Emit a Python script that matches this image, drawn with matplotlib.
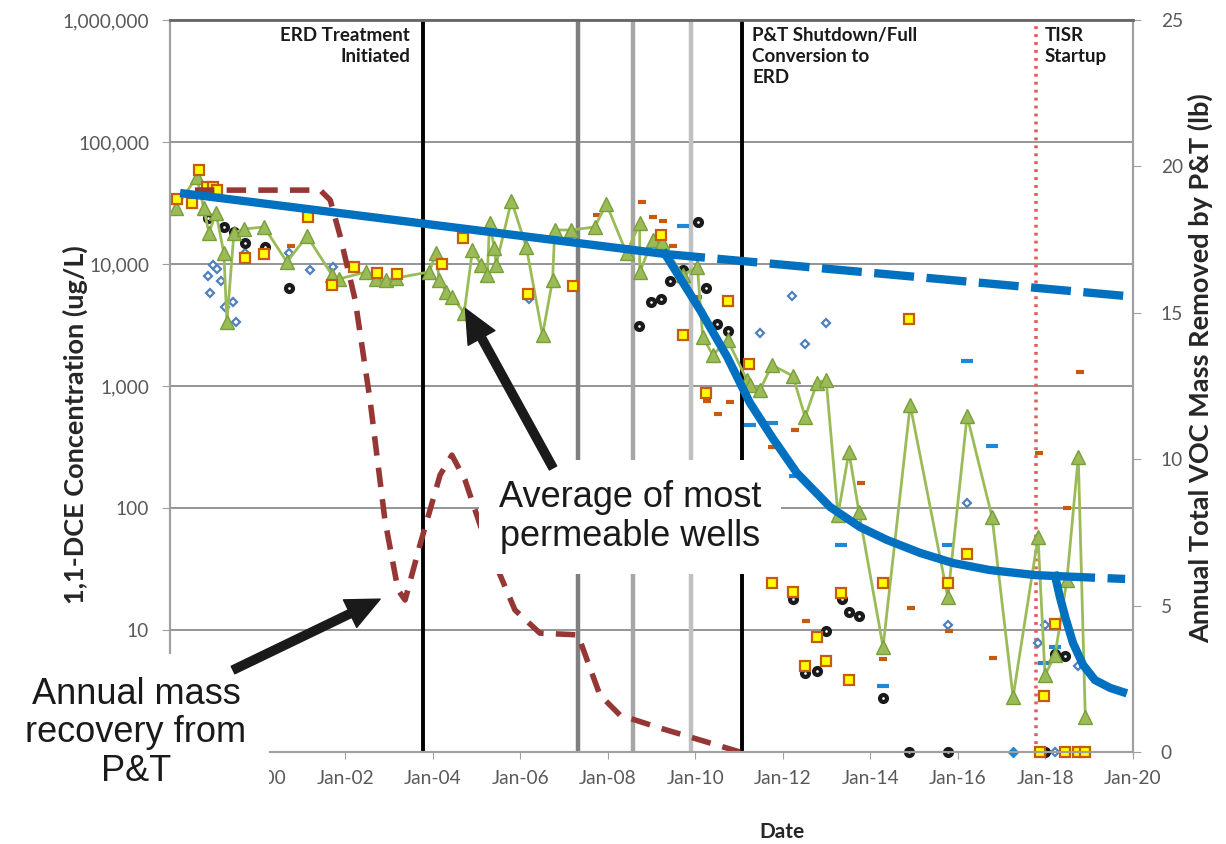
import numpy as np
import matplotlib.pyplot as plt
from matplotlib.ticker import FixedLocator, FuncFormatter, NullLocator

plt.rcParams['font.family'] = ['Lato', 'DejaVu Sans']

# x values are decimal years, y values in ug/L (left, log) or lb (right)

# green triangles - average of most permeable wells
avg_yr = [1998.13, 1998.61, 1998.77, 1998.89, 1999.05, 1999.23, 1999.30, 1999.46, 1999.69, 2000.15,
          2000.67, 2001.13, 2001.70, 2001.86, 2002.48, 2002.71, 2002.94, 2003.17, 2003.92, 2004.08,
          2004.15, 2004.31, 2004.45, 2004.72, 2004.91, 2005.11, 2005.25, 2005.30, 2005.41, 2005.45,
          2005.80, 2006.14, 2006.51, 2006.74, 2006.79, 2007.17, 2007.70, 2007.97, 2008.43, 2008.73,
          2008.73, 2009.03, 2009.23, 2009.71, 2010.05, 2010.17, 2010.40, 2010.74, 2011.18, 2011.25,
          2011.48, 2011.75, 2012.23, 2012.51, 2012.78, 2012.99, 2013.26, 2013.51, 2013.74, 2014.29,
          2014.91, 2015.77, 2016.21, 2016.78, 2017.26, 2017.83, 2017.99, 2018.22, 2018.49, 2018.75,
          2018.91]
avg_val = [28800, 51600, 28800, 17960, 26200, 12300, 3350, 17960, 19360, 20100,
           10380, 16980, 8130, 7540, 8600, 7540, 7390, 7680, 8600, 12300,
           7390, 5890, 5370, 3965, 13030, 9820, 8130, 21680, 13520, 9820,
           33000, 13780, 2620, 7390, 19000, 19000, 20100, 31000, 12300, 21680,
           8600, 15730, 15140, 8130, 9440, 2520, 1795, 2380, 1120, 1020,
           927, 1486, 1208, 557, 1059, 1120, 87.6, 288, 92.7, 7.26,
           699, 18.6, 568, 84.4, 2.82, 57.9, 4.28, 6.24, 25.7, 262,
           1.94]

# yellow squares
sq_yr = [1998.16, 1998.66, 1998.50, 1998.85, 1998.98, 1999.07, 1999.71, 2000.15, 2001.15, 2001.70,
         2002.20, 2002.73, 2003.19, 2004.21, 2004.69, 2006.18, 2007.21, 2009.22, 2009.72, 2010.75,
         2010.25, 2011.23, 2014.88, 2011.75, 2012.23, 2012.78, 2012.51, 2012.99, 2013.33, 2013.51,
         2014.29, 2015.77, 2016.21, 2018.22, 2017.97, 2017.88, 2018.45, 2018.75, 2018.91]
sq_val = [34100, 58900, 31600, 42800, 42800, 40400, 11200, 12080, 24300, 6730,
          9440, 8440, 8280, 10000, 16330, 5680, 6600, 17300, 2620, 4970,
          877, 1515, 3540, 24.3, 20.5, 8.77, 5.07, 5.57, 20.1, 3.89,
          24.3, 24.3, 42.0, 11.2, 2.88, 1, 1, 1, 1]

# black dots
blk_yr = [1998.87, 1999.23, 1999.46, 1999.71, 2000.17, 2000.72, 2010.06, 2009.72, 2009.42, 2008.99,
          2009.22, 2008.72, 2010.25, 2010.50, 2010.75, 2012.23, 2013.35, 2013.51, 2013.74, 2012.99,
          2012.51, 2012.78, 2014.29, 2018.22, 2018.45, 2014.88, 2015.77, 2017.99]
blk_val = [23800, 20100, 18300, 14860, 13780, 6360, 22100, 8930, 7260, 4880,
           5170, 3100, 6360, 3220, 2820, 17.9, 17.9, 14.0, 13.0, 9.79,
           4.44, 4.61, 2.77, 6.36, 6.13, 1, 1, 1]

# blue open diamonds
dia_yr = [1998.98, 1999.07, 1998.87, 1999.17, 1998.91, 1999.26, 1999.44, 1999.51, 1999.71, 2000.72,
          2001.20, 2001.72, 2006.20, 2011.48, 2012.21, 2012.51, 2012.99, 2016.21, 2015.77, 2017.83,
          2017.99, 2018.75, 2018.22]
dia_val = [9820, 9100, 7980, 7260, 5780, 4440, 4880, 3350, 12300, 12300,
           8930, 9440, 5170, 2720, 5470, 2210, 3280, 110, 11.0, 7.82,
           11.0, 5.07, 1]

# blue dashes
bd_yr = [2009.72, 2011.25, 2011.75, 2012.28, 2016.21, 2016.78, 2013.33, 2015.77, 2014.29, 2017.97, 2018.22]
bd_val = [20500, 479, 497, 183, 1600, 322, 49.8, 49.8, 3.48, 5.37, 7.26]
bfill_yr = [2017.26]
bfill_val = [1]

# orange dashes
od_yr = [2008.78, 2009.03, 2009.26, 2007.76, 2009.49, 2010.06, 2010.27, 2010.79, 2010.52, 2012.28,
         2011.75, 2013.79, 2012.53, 2014.93, 2014.29, 2015.80, 2016.80, 2017.85, 2018.49, 2018.79,
         2000.76]
od_val = [32200, 24300, 22500, 25200, 14060, 5370, 753, 736, 589, 436,
          316, 160, 11.8, 15.1, 5.78, 9.79, 5.89, 282, 100, 1300,
          14060]

# annual mass recovery from P&T (lb, right axis)
pt_yr = [1998.57, 2001.43, 2001.66, 2001.88, 2002.23, 2002.57, 2002.91, 2003.21, 2003.37, 2003.71,
         2004.17, 2004.44, 2004.74, 2005.20, 2005.54, 2005.88, 2006.45, 2007.32, 2007.82, 2008.28,
         2009.19, 2010.11, 2011.02]
pt_lb = [19.19, 19.19, 18.85, 17.66, 15.44, 12.02, 7.92, 5.53, 5.19, 7.07,
         9.46, 10.14, 9.29, 7.24, 6.05, 4.85, 4.06, 4.00, 1.95, 1.26,
         0.82, 0.41, 0.0]

# trend lines (ug/L)
tr1_yr = [1998.23, 2009.31]
tr1_val = [38200, 12080]
tr1d_yr = [2009.31, 2019.82]
tr1d_val = [12080, 5470]
tr2_yr = [2009.31, 2010.11, 2010.73, 2011.25, 2011.75, 2012.32, 2013.08, 2013.76, 2014.38, 2015.14,
          2015.89, 2016.73, 2017.76, 2018.22]
tr2_val = [12080, 4200, 1730, 726, 382, 194, 102, 69.9, 54.7, 42.8,
           35.4, 31.0, 28.2, 27.7]
tr2d_yr = [2018.22, 2019.82]
tr2d_val = [27.7, 26.2]
tr3_yr = [2018.22, 2018.33, 2018.47, 2018.63, 2018.86, 2019.13, 2019.48, 2019.77]
tr3_val = [27.7, 18.6, 12.1, 7.82, 5.17, 3.89, 3.35, 3.10]

# event lines
ev_yr = [2003.78, 2007.32, 2008.58, 2009.90, 2011.07, 2017.78]
ev_col = ['black', '#7f7f7f', '#a6a6a6', '#c0c0c0', 'black', '#e06060']

year_ticks = list(range(1998, 2021, 2))
year_labels = ['Jan-%02d' % (y % 100) for y in year_ticks]

fig = plt.figure(figsize=(12.26, 8.44), dpi=100)
ax = fig.add_axes([170 / 1226, 1 - 752 / 844, 963 / 1226, 732 / 844])
ax2 = ax.twinx()

ax.set_yscale('log')
ax.set_ylim(1, 1e6)
ax.set_xlim(1998, 2020)
ax.yaxis.set_major_locator(FixedLocator([1, 10, 100, 1e3, 1e4, 1e5, 1e6]))
ax.yaxis.set_minor_locator(NullLocator())
ax.yaxis.set_major_formatter(FuncFormatter(lambda v, p: f'{v:,.0f}'))
ax.grid(axis='y', color='#8c8c8c', lw=1.3, zorder=0)
ax.set_axisbelow(True)
ax.set_xticks(year_ticks)
ax.set_xticklabels(year_labels)

for yr, c in zip(ev_yr, ev_col):
    if c == '#e06060':
        ax.axvline(yr, color=c, lw=2.6, ls=(0, (0.8, 1.4)), zorder=1.5)
    else:
        ax.axvline(yr, color=c, lw=2.8 if c == 'black' else 3.2, zorder=1.5)

ax.plot(od_yr, od_val, ls='none', marker='_', ms=6, mew=3, color='#c55a11', zorder=3)
ax.plot(bd_yr, bd_val, ls='none', marker='_', ms=8, mew=3, color='#1f87d6', zorder=3)
ax.plot(bfill_yr, bfill_val, ls='none', marker='D', ms=5, color='#1f87d6', zorder=3, clip_on=False)
ax.plot(dia_yr, dia_val, ls='none', marker='D', ms=4.5, mfc='white', mec='#4f81bd', mew=1.6,
        zorder=3, clip_on=False)
ax.plot(blk_yr, blk_val, ls='none', marker='o', ms=5, mfc='white', mec='#1a1a1a', mew=3,
        zorder=3, clip_on=False)
ax.plot(avg_yr, avg_val, color='#9bbb59', lw=2, marker='^', ms=10, mfc='#9bbb59', mec='#77a03a',
        mew=1, zorder=3.5)
ax.plot(sq_yr, sq_val, ls='none', marker='s', ms=6.5, mfc='#ffff00', mec='#c55a11', mew=1.6,
        zorder=4, clip_on=False)

ax2.set_ylim(0, 25)
ax2.set_yticks([0, 5, 10, 15, 20, 25])
ax2.plot(pt_yr, pt_lb, color='#953735', lw=4, ls=(0, (3.5, 2.2)), zorder=2)

blue = '#0070c0'
ax2.plot(tr1_yr, tr1_val, color=blue, lw=6, solid_capstyle='butt', transform=ax.transData, zorder=5)
ax2.plot(tr1d_yr, tr1d_val, color=blue, lw=6, ls=(0, (4.8, 1.5)), transform=ax.transData, zorder=5)
ax2.plot(tr2_yr, tr2_val, color=blue, lw=6, transform=ax.transData, zorder=5)
ax2.plot(tr2d_yr, tr2d_val, color=blue, lw=6, ls=(0, (4.8, 1.5)), transform=ax.transData, zorder=5)
ax2.plot(tr3_yr, tr3_val, color=blue, lw=6, transform=ax.transData, zorder=5)

for a in (ax, ax2):
    for s in a.spines.values():
        s.set_color('#a0a0a0')
        s.set_linewidth(1.5)
ax2.spines['top'].set_color('#666666')
ax2.spines['top'].set_linewidth(2)

ax.tick_params(axis='y', length=6, color='#a0a0a0', labelcolor='#595959', labelsize=13.8, pad=9)
ax.tick_params(axis='x', length=5, color='#a0a0a0', labelcolor='#595959', labelsize=13.8, pad=8)
ax2.tick_params(axis='y', length=6, color='#a0a0a0', labelcolor='#595959', labelsize=13.8, pad=14)

fig.text(75 / 1226, 1 - 425 / 844, '1,1-DCE Concentration (ug/L)', rotation=90, ha='center',
         va='center', fontsize=19.5, fontweight='bold', color='#262626')
fig.text(1200 / 1226, 1 - 368 / 844, 'Annual Total VOC Mass Removed by P&T (lb)', rotation=90,
         ha='center', va='center', fontsize=19.5, fontweight='bold', color='#262626')
fig.text(782 / 1226, 1 - 832 / 844, 'Date', ha='center', va='center', fontsize=15,
         fontweight='bold', color='#262626')

ev_kw = dict(transform=ax2.transAxes, va='top', fontsize=13.5, fontweight='bold', color='#1a1a1a',
             linespacing=1.3, zorder=6)
ax2.text((410 - 170) / 963, (752 - 27) / 732, 'ERD Treatment\nInitiated', ha='right', **ev_kw)
ax2.text((752 - 170) / 963, (752 - 27) / 732, 'P&T Shutdown/Full\nConversion to\nERD', ha='left', **ev_kw)
ax2.text((1045 - 170) / 963, (752 - 27) / 732, 'TISR\nStartup', ha='left', **ev_kw)

box_kw = dict(transform=ax2.transAxes, ha='center', va='center', fontsize=26, color='#1a1a1a',
              family=['Liberation Sans', 'DejaVu Sans'], zorder=10, clip_on=False)
ax2.text((630 - 170) / 963, (752 - 517) / 732, 'Average of most\npermeable wells', linespacing=1.15,
         bbox=dict(fc='white', ec='none', pad=14), **box_kw)
ax2.text((136 - 170) / 963, (752 - 733) / 732, 'Annual mass\nrecovery from\nP&T', linespacing=1.14,
         bbox=dict(fc='white', ec='none', pad=16), **box_kw)

arrow = dict(facecolor='#1a1a1a', edgecolor='#1a1a1a', width=6, headwidth=22, headlength=24, shrink=0)
ax2.annotate('', xy=(2004.75, 4300), xycoords=ax.transData, xytext=(2006.75, 213),
             textcoords=ax.transData, arrowprops=arrow, zorder=12)
ax2.annotate('', xy=(2002.80, 17.9), xycoords=ax.transData, xytext=(1999.44, 4.7),
             textcoords=ax.transData, arrowprops=arrow, zorder=12)

ax.set_xlim(1998, 2020)
ax2.set_ylim(0, 25)
fig.savefig('out.png', dpi=100)
